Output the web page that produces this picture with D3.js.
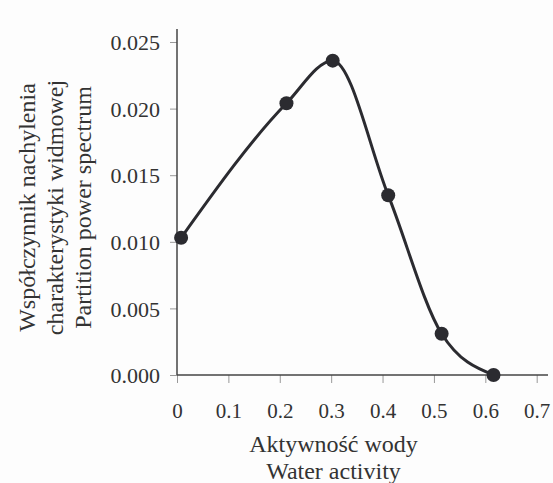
<!DOCTYPE html>
<html>
<head>
<meta charset="utf-8">
<script src="https://cdn.jsdelivr.net/npm/d3@7"></script>
<style>
  body { margin: 0; background: #fdfdfd; font-family: "Liberation Serif"; }
  svg { display: block; }
  svg text { font-family: "Liberation Serif" !important; }
</style>
</head>
<body>
<svg id="svg" width="553" height="483" font-family="Liberation Serif"></svg>
<script>
// data
const waterActivity = [0.008, 0.213, 0.303, 0.411, 0.515, 0.616];
const slopeCoef = [0.0103, 0.0204, 0.0236, 0.0135, 0.0031, 0.0000];

const xTicks = [0, 0.1, 0.2, 0.3, 0.4, 0.5, 0.6, 0.7];
const xTickLabels = ["0", "0.1", "0.2", "0.3", "0.4", "0.5", "0.6", "0.7"];
const yTicks = [0, 0.005, 0.010, 0.015, 0.020, 0.025];

const yTitle = ["Współczynnik nachylenia", "charakterystyki widmowej", "Partition power spectrum"];
const xTitle = ["Aktywność wody", "Water activity"];

const width = 553;
const height = 483;
const textColour = "#333";

let svg = d3.select("#svg");

// plot area
const plotLeft = 177, plotBottom = 375, plotTop = 29, plotRight = 548;

let xScale = d3.scaleLinear()
    .domain([0, 0.7])
    .range([plotLeft, 536.7]);

let yScale = d3.scaleLinear()
    .domain([0, 0.025])
    .range([plotBottom, 42]);

function drawChart() {
    svg.append("rect")
        .attr("width", width)
        .attr("height", height)
        .attr("fill", "#fdfdfd");

    // y axis
    let yAxis = svg.append("g")
        .attr("transform", `translate(${plotLeft},0)`)
        .call(d3.axisLeft(yScale).tickValues(yTicks).tickFormat(d3.format(".3f")).tickSize(7).tickPadding(10));
    yAxis.attr("font-family", "Liberation Serif").attr("font-size", 22);
    yAxis.select(".domain").remove();
    yAxis.selectAll("line").attr("stroke", "#999");
    yAxis.selectAll("text")
        .attr("fill", textColour)
        .attr("dy", "0.35em");

    // x axis
    let xAxis = svg.append("g")
        .attr("transform", `translate(0,${plotBottom})`)
        .call(d3.axisBottom(xScale).tickValues(xTicks).tickFormat((d, i) => xTickLabels[i]).tickSize(8).tickPadding(20));
    xAxis.attr("font-family", "Liberation Serif").attr("font-size", 21);
    xAxis.select(".domain").remove();
    xAxis.selectAll("line").attr("stroke", "#999");
    xAxis.selectAll("text")
        .attr("fill", textColour);

    // axis lines
    svg.append("line")
        .attr("x1", plotLeft).attr("x2", plotLeft)
        .attr("y1", plotTop).attr("y2", plotBottom)
        .attr("stroke", "#444").attr("stroke-width", 1.5);
    svg.append("line")
        .attr("x1", plotLeft).attr("x2", plotRight)
        .attr("y1", plotBottom).attr("y2", plotBottom)
        .attr("stroke", "#444").attr("stroke-width", 1.5);

    // smoothed curve
    let points = waterActivity.map((d, i) => [xScale(d), yScale(slopeCoef[i])]);

    svg.append("path")
        .attr("d", d3.line().curve(d3.curveMonotoneX)(points))
        .attr("fill", "none")
        .attr("stroke", "#2b2b30")
        .attr("stroke-width", 3);

    svg.selectAll(".dot")
        .data(points)
        .enter().append("circle")
        .attr("class", "dot")
        .attr("cx", d => d[0])
        .attr("cy", d => d[1])
        .attr("r", 7)
        .attr("fill", "#2b2b30");

    // y title, three lines
    yTitle.forEach((t, i) => {
        svg.append("text")
            .attr("transform", `translate(${35 + i * 28},207.5) rotate(-90)`)
            .attr("text-anchor", "middle")
            .attr("font-size", 24)
            .attr("fill", textColour)
            .text(t);
    });

    // x title, two lines
    xTitle.forEach((t, i) => {
        svg.append("text")
            .attr("x", 333.5)
            .attr("y", 452 + i * 27)
            .attr("text-anchor", "middle")
            .attr("font-size", 24)
            .attr("fill", textColour)
            .text(t);
    });
}

drawChart();
</script>
</body>
</html>
